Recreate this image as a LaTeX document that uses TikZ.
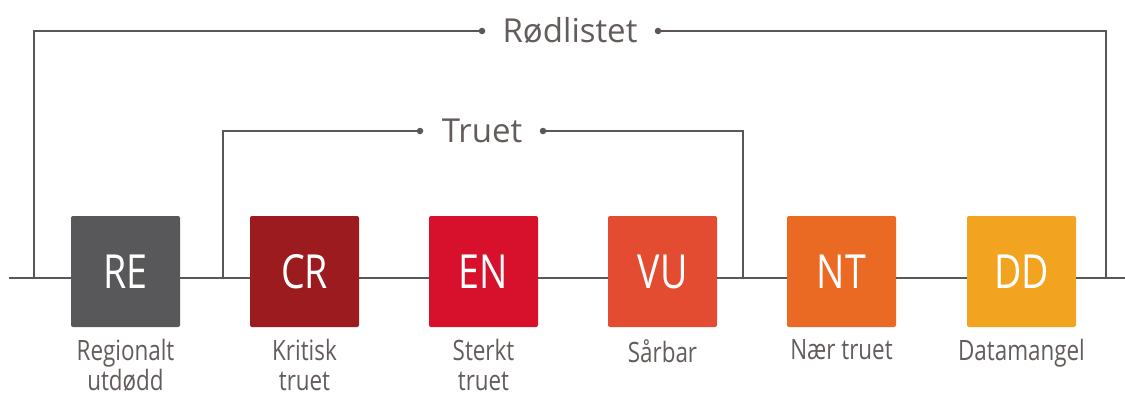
\documentclass[tikz,border=0pt]{standalone}
\usepackage{fontspec}
\setmainfont{Open Sans}[FakeStretch=0.8]
\newfontfamily\groupfont{Open Sans}
\definecolor{linec}{RGB}{92,86,84}
\definecolor{textc}{RGB}{98,92,90}
\definecolor{cRE}{RGB}{88,88,90}
\definecolor{cCR}{RGB}{155,27,30}
\definecolor{cEN}{RGB}{215,16,43}
\definecolor{cVU}{RGB}{228,76,50}
\definecolor{cNT}{RGB}{234,106,36}
\definecolor{cDD}{RGB}{242,163,31}
\begin{document}
\begin{tikzpicture}[x=1pt,y=-1pt,
  catbox/.style={minimum width=109pt,minimum height=111pt,inner sep=0pt,rounded corners=2pt,text=white,font=\fontsize{47}{47}\selectfont},
  catlabel/.style={below=12pt,align=center,text=textc,font=\fontsize{28}{29.5}\selectfont,inner sep=0pt},
  grouplabel/.style={text=textc,font=\groupfont\fontsize{33}{33}\selectfont,inner sep=0pt},
  conn/.style={draw=linec,line width=2pt},
  dotend/.style={circle,fill=linec,inner sep=0pt,minimum size=6.5pt}]
\useasboundingbox (0,0) rectangle (1125,399);
\fill[white] (0,0) rectangle (1125,399);
% boxes
\node[catbox,fill=cRE] (RE) at (125.5,271.5) {RE};
\node[catbox,fill=cCR] (CR) at (304.5,271.5) {CR};
\node[catbox,fill=cEN] (EN) at (483.5,271.5) {EN};
\node[catbox,fill=cVU] (VU) at (662.5,271.5) {VU};
\node[catbox,fill=cNT] (NT) at (841.5,271.5) {NT};
\node[catbox,fill=cDD] (DD) at (1021.5,271.5) {DD};
% labels
\node[catlabel] (lRE) at (RE.south) {Regionalt\\utdødd};
\node[catlabel] (lCR) at (CR.south) {Kritisk\\truet};
\node[catlabel] (lEN) at (EN.south) {Sterkt\\truet};
\node[catlabel] (lVU) at (VU.south) {Sårbar};
\node[catlabel] (lNT) at (NT.south) {Nær truet};
\node[catlabel] (lDD) at (DD.south) {Datamangel};
% group labels
\node[grouplabel] (rod) at (570,31) {Rødlistet};
\node[grouplabel] (tru) at (482,131) {Truet};
\node[dotend] (rodL) at (482,31) {};
\node[dotend] (rodR) at (658,31) {};
\node[dotend] (truL) at (420,131) {};
\node[dotend] (truR) at (543,131) {};
% coordinates
\coordinate (Lend) at (9,278);
\coordinate (Rend) at (1125,278);
\coordinate (rodA) at (34,278);
\coordinate (rodB) at (1106,278);
\coordinate (truA) at (223,278);
\coordinate (truB) at (743,278);
% main line
\draw[conn] (Lend) -- (Lend -| RE.west);
\draw[conn] (RE.east |- Lend) -- (CR.west |- Lend);
\draw[conn] (CR.east |- Lend) -- (EN.west |- Lend);
\draw[conn] (EN.east |- Lend) -- (VU.west |- Lend);
\draw[conn] (VU.east |- Lend) -- (NT.west |- Lend);
\draw[conn] (NT.east |- Lend) -- (DD.west |- Lend);
\draw[conn] (DD.east |- Lend) -- (Rend);
% brackets
\draw[conn] (rodA) |- (rodL.center);
\draw[conn] (rodR.center) -| (rodB);
\draw[conn] (truA) |- (truL.center);
\draw[conn] (truR.center) -| (truB);
\end{tikzpicture}
\end{document}
